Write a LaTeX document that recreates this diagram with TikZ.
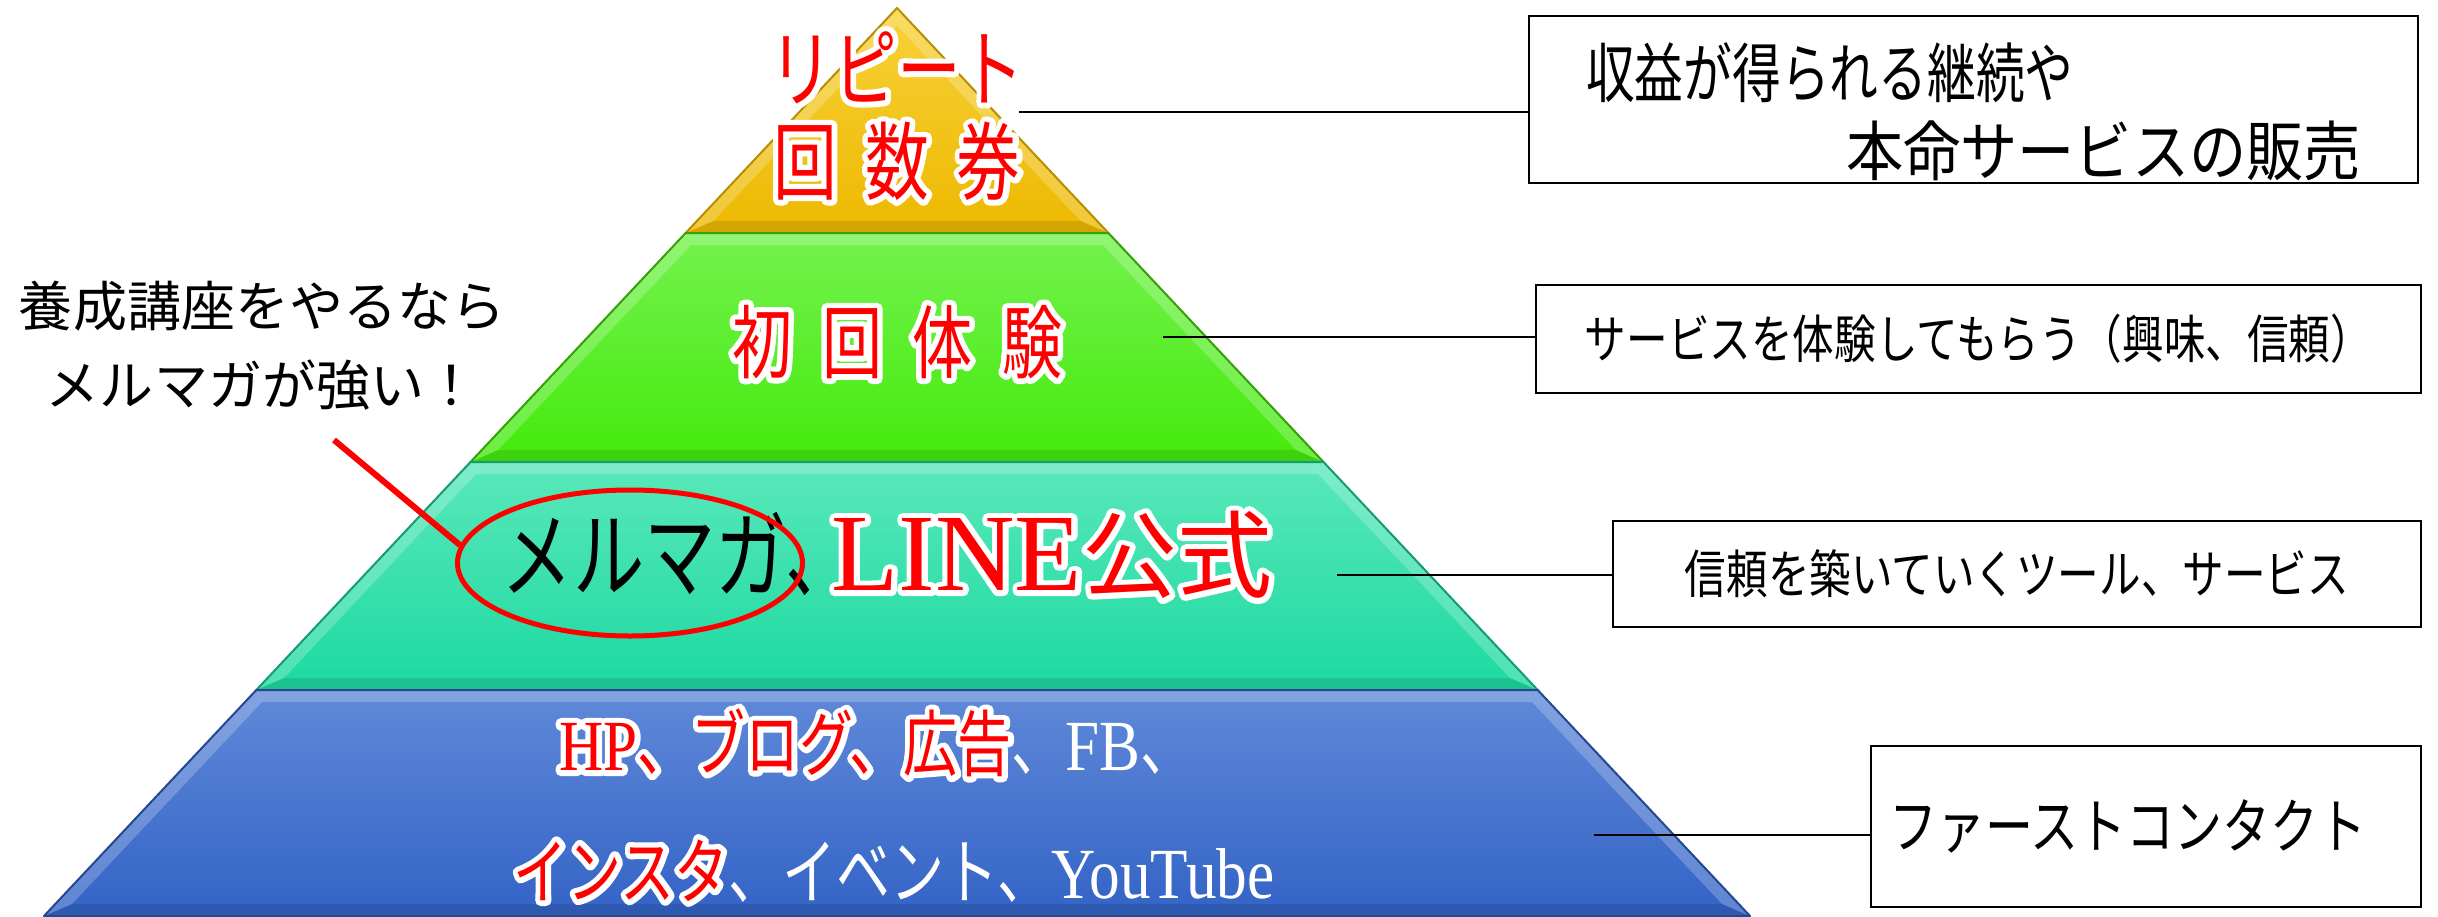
\documentclass[tikz,border=0pt]{standalone}
\usepackage{fontspec}
\usetikzlibrary{shapes.geometric}
\newfontfamily\jpn{Noto Sans CJK JP}[FakeStretch=0.75]
\newfontfamily\jpb{Noto Sans CJK JP}[FakeStretch=0.8]
\newfontfamily\jpm{Noto Sans CJK JP}[FakeStretch=0.88]
\newfontfamily\jpw{Noto Sans CJK JP}
\newfontfamily\lat{Liberation Serif}[FakeStretch=0.85]
\newfontfamily\latw{Liberation Serif}
% white halo: first pass filled and stroked in white, second pass plain fill on top
\newcommand\glow[1]{\leavevmode\rlap{\special{pdf:literal 1 1 1 RG 1 j 1 J 11 w 2 Tr}#1\special{pdf:literal 0 Tr}}#1}
\definecolor{yelT}{HTML}{F8D23A}
\definecolor{yelB}{HTML}{EDB800}
\definecolor{yelE}{HTML}{B88E00}
\definecolor{grnT}{HTML}{74F24E}
\definecolor{grnB}{HTML}{44EA0C}
\definecolor{grnE}{HTML}{35A008}
\definecolor{tealT}{HTML}{5AE8BA}
\definecolor{tealB}{HTML}{1CD9A0}
\definecolor{tealE}{HTML}{159A72}
\definecolor{bluT}{HTML}{6089D8}
\definecolor{bluB}{HTML}{3363C6}
\definecolor{bluE}{HTML}{24478F}
\begin{document}
\begin{tikzpicture}[x=1pt,y=-1pt,
  lbl/.style={inner sep=0pt, anchor=center, align=center},
  infobox/.style={draw=black, line width=2.5pt, fill=white, inner sep=0pt},
  conn/.style={draw=black, line width=2.5pt},
  hi/.style={fill=white, fill opacity=0.22},
  lo/.style={fill=black, fill opacity=0.10}]
\useasboundingbox (0,0) rectangle (2438,916);
\fill[white] (0,0) rectangle (2438,916);

% ---------- layer 1: yellow ----------
\shade[top color=yelT, bottom color=yelB] (897,8) -- (1108.4,233) -- (685.6,233) -- cycle;
\path[hi] (897,8) -- (897,25.5) -- (713.4,221) -- (685.6,233) -- cycle;
\path[hi] (897,8) -- (1108.4,233) -- (1080.6,221) -- (897,25.5) -- cycle;
\path[lo] (685.6,233) -- (1108.4,233) -- (1080.6,221) -- (713.4,221) -- cycle;
\draw[yelE, line width=2pt, line join=round] (897,8) -- (1108.4,233) -- (685.6,233) -- cycle;

% ---------- layer 2: green ----------
\shade[top color=grnT, bottom color=grnB] (685.6,233) -- (1108.4,233) -- (1323.5,462) -- (470.5,462) -- cycle;
\path[hi] (685.6,233) -- (691,245) -- (498,450) -- (470.5,462) -- cycle;
\path[hi] (685.6,233) -- (1108.4,233) -- (1103,245) -- (691,245) -- cycle;
\path[hi] (1108.4,233) -- (1323.5,462) -- (1296,450) -- (1103,245) -- cycle;
\path[lo] (470.5,462) -- (1323.5,462) -- (1296,450) -- (498,450) -- cycle;
\draw[grnE, line width=2pt, line join=round] (685.6,233) -- (1108.4,233) -- (1323.5,462) -- (470.5,462) -- cycle;

% ---------- layer 3: teal ----------
\shade[top color=tealT, bottom color=tealB] (470.5,462) -- (1323.5,462) -- (1537.7,690) -- (256.3,690) -- cycle;
\path[hi] (470.5,462) -- (476,474) -- (284,678) -- (256.3,690) -- cycle;
\path[hi] (470.5,462) -- (1323.5,462) -- (1318,474) -- (476,474) -- cycle;
\path[hi] (1323.5,462) -- (1537.7,690) -- (1510,678) -- (1318,474) -- cycle;
\path[lo] (256.3,690) -- (1537.7,690) -- (1510,678) -- (284,678) -- cycle;
\draw[tealE, line width=2pt, line join=round] (470.5,462) -- (1323.5,462) -- (1537.7,690) -- (256.3,690) -- cycle;

% ---------- layer 4: blue ----------
\shade[top color=bluT, bottom color=bluB] (256.3,690) -- (1537.7,690) -- (1750,916) -- (44,916) -- cycle;
\path[hi] (256.3,690) -- (262,702) -- (72,904) -- (44,916) -- cycle;
\path[hi] (256.3,690) -- (1537.7,690) -- (1532,702) -- (262,702) -- cycle;
\path[hi] (1537.7,690) -- (1750,916) -- (1722,904) -- (1532,702) -- cycle;
\path[lo] (44,916) -- (1750,916) -- (1722,904) -- (72,904) -- cycle;
\draw[bluE, line width=2pt, line join=round] (256.3,690) -- (1537.7,690) -- (1750,916) -- (44,916) -- cycle;

% ---------- pyramid texts ----------
\node[lbl, text=red, font={\fontsize{85}{93}\selectfont\jpn}] (t1) at (897,116)
  {\glow{リピート}\\\glow{回\hspace{28pt}数\hspace{28pt}券}};
\node[lbl, text=red, font={\fontsize{80}{90}\selectfont\jpn}] (t2) at (897,342)
  {\glow{初\hspace{30pt}回\hspace{30pt}体\hspace{30pt}験}};
\node[lbl, text=red, font={\fontsize{95}{100}\selectfont\jpn}] (t3) at (887,555)
  {{\color{black}メルマガ、}\hspace{-25pt}\glow{\fontsize{110}{110}\selectfont\latw LINE\fontsize{95}{100}\selectfont\jpw 公式}};
\node[lbl, text=red, font={\fontsize{72}{80}\selectfont\jpn}] (b1) at (877,743)
  {\glow{\lat HP\jpn 、ブログ、広告}{\color{white}\jpn 、\lat FB\jpn 、}};
\node[lbl, text=red, font={\fontsize{72}{80}\selectfont\jpn}] (b2) at (894,871)
  {\glow{インスタ}{\color{white}、イベント、\lat YouTube}};

% ---------- annotation ----------
\node[lbl, font={\fontsize{54}{79}\selectfont\jpw}] (ann) at (262,346)
  {養成講座をやるなら\\メルマガが強い！};
\node[ellipse, draw=red, line width=5pt, minimum width=345pt, minimum height=146pt, inner sep=0pt] (ell) at (630,563) {};
\coordinate (r0) at (334,440);
\draw[red, line width=6pt] (r0) -- (ell.174);

% ---------- boxes ----------
\node[infobox, minimum width=889pt, minimum height=167pt] (box1) at (1973.5,99.5) {};
\node[lbl, anchor=west, font={\fontsize{65}{70}\selectfont\jpn}] (bt1a) at (1586,73) {収益が得られる継続や};
\node[lbl, anchor=east, font={\fontsize{65}{70}\selectfont\jpm}] (bt1b) at (2361,151) {本命サービスの販売};
\node[infobox, minimum width=885pt, minimum height=108pt, font={\fontsize{52}{60}\selectfont\jpb}] (box2) at (1978.5,339)
  {サービスを体験してもらう（興味、信頼）};
\node[infobox, minimum width=808pt, minimum height=106pt, font={\fontsize{52}{60}\selectfont\jpb}] (box3) at (2017,574)
  {信頼を築いていくツール、サービス};
\node[infobox, text width=514pt, inner xsep=18pt, align=left, minimum height=161pt, font={\fontsize{60}{66}\selectfont\jpb}] (box4) at (2146,826.5)
  {ファーストコンタクト};

% ---------- connectors ----------
\coordinate (c1) at (1019,112);
\coordinate (c2) at (1163,337);
\coordinate (c3) at (1337,575);
\coordinate (c4) at (1594,835);
\draw[conn] (c1) -- (c1 -| box1.west);
\draw[conn] (c2) -- (c2 -| box2.west);
\draw[conn] (c3) -- (c3 -| box3.west);
\draw[conn] (c4) -- (c4 -| box4.west);
\end{tikzpicture}
\end{document}
